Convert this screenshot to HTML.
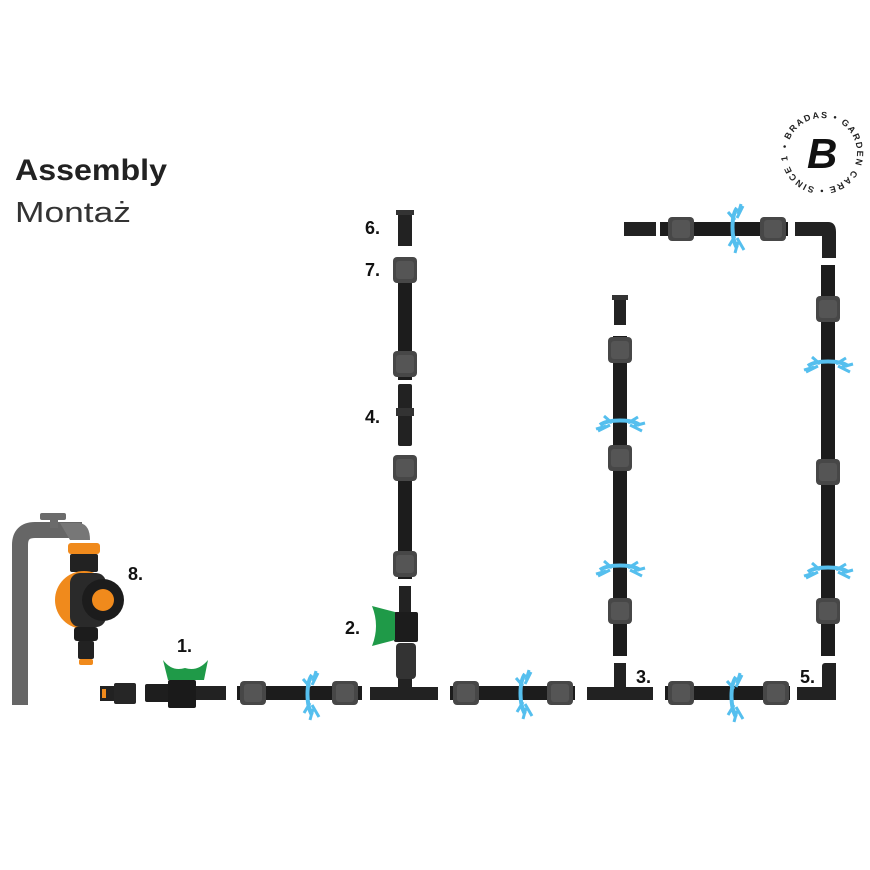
<!DOCTYPE html>
<html><head><meta charset="utf-8"><style>
html,body{margin:0;padding:0;background:#fff;}
svg{display:block}
text{font-family:"Liberation Sans",sans-serif;}
</style></head><body>
<svg width="870" height="870" viewBox="0 0 870 870" xmlns="http://www.w3.org/2000/svg">
<defs>
  <g id="sprayV">
    <path d="M0,-20 C-6,-12 -6,10 0,20" stroke="#55bfee" stroke-width="4" fill="none"/>
    <path d="M0,-10 L6,-22 M-2,-8 L-9,-16 M0,10 L7,22 M-2,8 L-8,18 M1,-14 L4,-24 M1,14 L-2,25" stroke="#55bfee" stroke-width="3" fill="none"/>
  </g>
  <g id="sprayH">
    <path d="M-20,0 C-12,-6 12,-6 20,0" stroke="#55bfee" stroke-width="4" fill="none"/>
    <path d="M-10,0 L-22,6 M-8,-2 L-16,-9 M10,0 L22,6 M8,-2 L18,-8 M-14,1 L-24,4 M14,1 L25,-2" stroke="#55bfee" stroke-width="3" fill="none"/>
  </g>
  <g id="connH"><rect x="-13" y="-12" width="26" height="24" rx="4" fill="#474747"/><rect x="-9" y="-9" width="18" height="18" rx="3" fill="#555"/></g>
  <g id="connV"><rect x="-12" y="-13" width="24" height="26" rx="4" fill="#474747"/><rect x="-9" y="-9" width="18" height="18" rx="3" fill="#555"/></g>
</defs>

<text x="15" y="180" font-size="30" font-weight="bold" fill="#222" textLength="152" lengthAdjust="spacingAndGlyphs">Assembly</text>
<text x="15" y="222" font-size="29" fill="#333" textLength="116" lengthAdjust="spacingAndGlyphs">Montaż</text>

<!-- logo -->
<g transform="translate(822,153)">
  <path id="lc" d="M-35,0 A35,35 0 1,1 35,0 A35,35 0 1,1 -35,0" fill="none"/>
  <text font-size="9" font-weight="bold" fill="#222" letter-spacing="1.6"><textPath href="#lc" startOffset="2%">• BRADAS • GARDEN CARE • SINCE 1985</textPath></text>
  <text x="-15" y="15" font-size="42" font-weight="bold" font-style="italic" fill="#111" font-family="Liberation Serif">B</text>
</g>

<!-- tap -->
<path d="M20,705 L20,545 Q20,530 35,530 L82,530" stroke="#666" stroke-width="16" fill="none"/>
<rect x="40" y="513" width="26" height="7" rx="2" fill="#6b6b6b"/>
<rect x="50" y="518" width="8" height="10" fill="#6b6b6b"/>
<path d="M60,523 L80,523 Q90,525 90,540 L70,540 Z" fill="#777"/>
<!-- timer -->
<rect x="68" y="543" width="32" height="11" rx="3" fill="#f08a1c"/>
<rect x="70" y="554" width="28" height="18" rx="2" fill="#222"/>
<circle cx="84" cy="600" r="29" fill="#f08a1c"/>
<rect x="70" y="573" width="36" height="54" rx="10" fill="#2a2a2a"/>
<circle cx="103" cy="600" r="21" fill="#1c1c1c"/>
<circle cx="103" cy="600" r="11" fill="#f08a1c"/>
<rect x="74" y="627" width="24" height="14" rx="3" fill="#1c1c1c"/>
<rect x="78" y="641" width="16" height="18" rx="2" fill="#222"/>
<rect x="79" y="659" width="14" height="6" rx="2" fill="#f08a1c"/>
<text x="128" y="580" font-size="18" font-weight="bold" fill="#111">8.</text>

<!-- bottom row -->
<rect x="100" y="686" width="14" height="15" fill="#222"/><rect x="102" y="689" width="4" height="9" fill="#f08a1c"/>
<rect x="114" y="683" width="22" height="21" rx="2" fill="#262626"/>
<rect x="145" y="684" width="25" height="18" rx="2" fill="#1e1e1e"/>
<rect x="168" y="680" width="28" height="28" rx="2" fill="#1a1a1a"/>
<rect x="196" y="686" width="30" height="14" fill="#222"/>
<path d="M163,660 Q172,672 185,668 Q198,672 208,660 L204,680 L168,680 Z" fill="#1f9a48"/>
<text x="177" y="652" font-size="18" font-weight="bold" fill="#111">1.</text>

<rect x="237" y="686" width="125" height="14" fill="#1c1c1c"/>
<use href="#connH" x="253" y="693"/><use href="#connH" x="345" y="693"/>
<use href="#sprayV" x="312" y="695"/>

<rect x="370" y="687" width="68" height="13" fill="#222"/>
<rect x="398" y="675" width="14" height="14" fill="#222"/>

<rect x="450" y="686" width="125" height="14" fill="#1c1c1c"/>
<use href="#connH" x="466" y="693"/><use href="#connH" x="560" y="693"/>
<use href="#sprayV" x="525" y="694"/>

<rect x="587" y="687" width="66" height="13" fill="#222"/>
<rect x="614" y="663" width="12" height="26" fill="#222"/>
<text x="636" y="683" font-size="18" font-weight="bold" fill="#111">3.</text>

<rect x="665" y="686" width="125" height="14" fill="#1c1c1c"/>
<use href="#connH" x="681" y="693"/><use href="#connH" x="776" y="693"/>
<use href="#sprayV" x="736" y="697"/>

<path d="M797,687 L830,687 L830,663 L836,663 L836,700 L797,700 Z" fill="#222"/>
<rect x="822" y="663" width="14" height="37" rx="3" fill="#222"/>
<text x="800" y="683" font-size="18" font-weight="bold" fill="#111">5.</text>

<!-- column A -->
<rect x="398" y="210" width="14" height="36" fill="#222"/>
<rect x="396" y="210" width="18" height="5" fill="#333"/>
<text x="365" y="234" font-size="18" font-weight="bold" fill="#111">6.</text>
<rect x="398" y="258" width="14" height="122" fill="#1c1c1c"/>
<use href="#connV" x="405" y="270"/><use href="#connV" x="405" y="364"/>
<text x="365" y="276" font-size="18" font-weight="bold" fill="#111">7.</text>
<rect x="398" y="384" width="14" height="62" rx="2" fill="#222"/>
<rect x="396" y="408" width="18" height="8" fill="#333"/>
<text x="365" y="423" font-size="18" font-weight="bold" fill="#111">4.</text>
<rect x="398" y="455" width="14" height="124" fill="#1c1c1c"/>
<use href="#connV" x="405" y="468"/><use href="#connV" x="405" y="564"/>
<rect x="399" y="586" width="12" height="26" fill="#222"/>
<rect x="394" y="612" width="24" height="30" rx="2" fill="#1c1c1c"/>
<path d="M372,606 Q380,626 372,646 L395,640 L395,612 Z" fill="#1f9a48"/>
<rect x="396" y="643" width="20" height="36" rx="4" fill="#333"/>
<text x="345" y="634" font-size="18" font-weight="bold" fill="#111">2.</text>

<!-- column B -->
<rect x="614" y="295" width="12" height="30" fill="#222"/>
<rect x="612" y="295" width="16" height="5" fill="#333"/>
<rect x="613" y="336" width="14" height="320" fill="#1c1c1c"/>
<use href="#connV" x="620" y="350"/><use href="#connV" x="620" y="458"/><use href="#connV" x="620" y="611"/>
<use href="#sprayH" x="620" y="425"/><use href="#sprayH" x="620" y="570"/>

<!-- column C -->
<rect x="821" y="265" width="14" height="391" fill="#1c1c1c"/>
<use href="#connV" x="828" y="309"/><use href="#connV" x="828" y="472"/><use href="#connV" x="828" y="611"/>
<use href="#sprayH" x="828" y="366"/><use href="#sprayH" x="828" y="572"/>

<!-- top row -->
<rect x="624" y="222" width="32" height="14" fill="#222"/>
<rect x="660" y="222" width="128" height="14" fill="#1c1c1c"/>
<use href="#connH" x="681" y="229"/><use href="#connH" x="773" y="229"/>
<use href="#sprayV" x="737" y="228"/>
<path d="M795,222 L828,222 Q836,222 836,232 L836,258 L822,258 L822,236 L795,236 Z" fill="#222"/>
</svg>
</body></html>
